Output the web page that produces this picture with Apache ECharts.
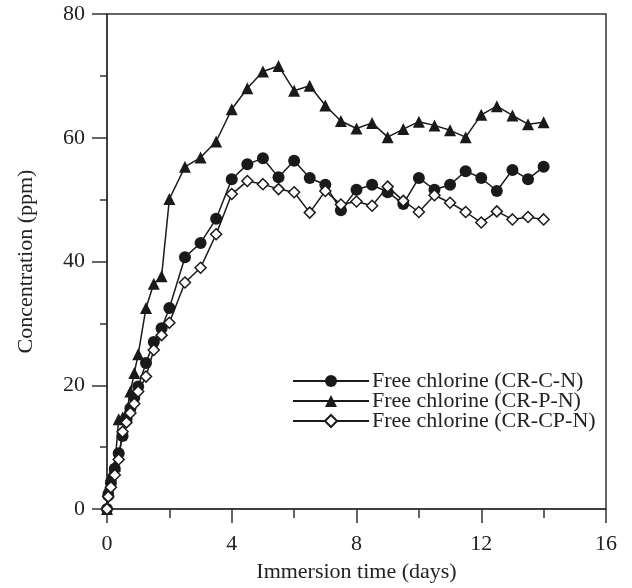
<!DOCTYPE html>
<html>
<head>
<meta charset="utf-8">
<script src="https://cdn.jsdelivr.net/npm/echarts@6/dist/echarts.min.js"></script>
<style>
    html, body { margin: 0; padding: 0; background: #fff; }
    #chart { width: 632px; height: 588px; }
</style>
</head>
<body>
<div id="chart"></div>
<script>
// immersion time (days)
const times = [0, 0.04, 0.125, 0.25, 0.375, 0.5, 0.625, 0.75, 0.875, 1,
    1.25, 1.5, 1.75, 2, 2.5, 3, 3.5,
    4, 4.5, 5, 5.5, 6, 6.5, 7, 7.5, 8, 8.5, 9, 9.5, 10, 10.5, 11, 11.5, 12, 12.5, 13, 13.5, 14];
// free chlorine concentration (ppm)
const crC = [0, 2.2, 4.2, 6.5, 9, 11.8, 14.5, 16.3, 18, 19.8,
    23.6, 27.0, 29.2, 32.5, 40.7, 43.0, 46.9,
    53.3, 55.7, 56.7, 53.6, 56.3, 53.5, 52.4, 48.3, 51.6, 52.4, 51.2, 49.3, 53.5, 51.6, 52.4, 54.6, 53.5, 51.4, 54.8, 53.3, 55.3];
const crP = [0, 3.5, 5.5, 7, 14.5, 14.8, 15.5, 19, 22, 25,
    32.5, 36.4, 37.6, 50.1, 55.3, 56.8, 59.4,
    64.6, 68, 70.7, 71.6, 67.6, 68.4, 65.2, 62.7, 61.5, 62.4, 60.1, 61.4, 62.6, 62.0, 61.2, 60.1, 63.7, 65.1, 63.6, 62.2, 62.5];
const crCP = [0, 2, 3.5, 5.5, 8, 12.5, 14, 15.5, 17, 19,
    21.4, 25.7, 28.1, 30.1, 36.6, 39.0, 44.4,
    50.9, 53.0, 52.5, 51.7, 51.2, 47.9, 51.4, 49.2, 49.7, 49.0, 52.1, 49.8, 48.0, 50.7, 49.5, 48.0, 46.3, 48.1, 46.8, 47.2, 46.8];
const seriesNames = ['Free chlorine (CR-C-N)', 'Free chlorine (CR-P-N)', 'Free chlorine (CR-CP-N)'];

const ink = '#1a1a1a';
const font = 'Liberation Serif';

function pairs(values) {
    return times.map(function (t, i) { return [t, values[i]]; });
}

function makeSeries(name, values, symbol, size, hollow) {
    return {
        name: name,
        type: 'line',
        data: pairs(values),
        symbol: symbol,
        symbolSize: size,
        showSymbol: true,
        lineStyle: { color: ink, width: 1.5 },
        itemStyle: hollow
            ? { color: '#fff', borderColor: ink, borderWidth: 1.5 }
            : { color: ink, borderWidth: 0 },
        emphasis: { disabled: true },
        animation: false
    };
}

let chart = echarts.init(document.getElementById('chart'));
let option = {
    backgroundColor: '#fff',
    animation: false,
    grid: {
        left: 107,
        right: 26,
        top: 14,
        bottom: 74,
        show: true,
        borderColor: '#333',
        borderWidth: 1.5,
        backgroundColor: 'transparent'
    },
    legend: {
        orient: 'vertical',
        left: 292,
        top: 370,
        padding: 0,
        itemWidth: 76,
        itemHeight: 15,
        itemGap: -2,
        data: seriesNames,
        textStyle: { fontFamily: font, fontSize: 22, lineHeight: 18, color: '#222', padding: [0, 0, 0, -2] }
    },
    xAxis: {
        type: 'value',
        min: 0,
        max: 16,
        interval: 4,
        name: 'Immersion time (days)',
        nameLocation: 'middle',
        nameGap: 52,
        nameTextStyle: { fontFamily: font, fontSize: 22, color: '#222' },
        axisLine: { lineStyle: { color: '#333', width: 1.5 } },
        axisTick: { show: true, inside: false, length: 14, lineStyle: { color: '#333', width: 1.5 } },
        minorTick: { show: true, splitNumber: 2, length: 9, lineStyle: { color: '#333', width: 1.5 } },
        splitLine: { show: false },
        axisLabel: { fontFamily: font, fontSize: 22, color: '#222', margin: 24 }
    },
    yAxis: {
        type: 'value',
        min: 0,
        max: 80,
        interval: 20,
        name: 'Concentration (ppm)',
        nameLocation: 'middle',
        nameGap: 70,
        nameTextStyle: { fontFamily: font, fontSize: 22, color: '#222' },
        axisLine: { lineStyle: { color: '#333', width: 1.5 } },
        axisTick: { show: true, inside: false, length: 15, lineStyle: { color: '#333', width: 1.5 } },
        minorTick: { show: true, splitNumber: 2, length: 7, lineStyle: { color: '#333', width: 1.5 } },
        splitLine: { show: false },
        axisLabel: { fontFamily: font, fontSize: 22, color: '#222', margin: 22 }
    },
    series: [
        makeSeries(seriesNames[0], crC, 'circle', 12, false),
        makeSeries(seriesNames[1], crP, 'triangle', 12, false),
        makeSeries(seriesNames[2], crCP, 'diamond', 11, true)
    ]
};
chart.setOption(option);
</script>
</body>
</html>
